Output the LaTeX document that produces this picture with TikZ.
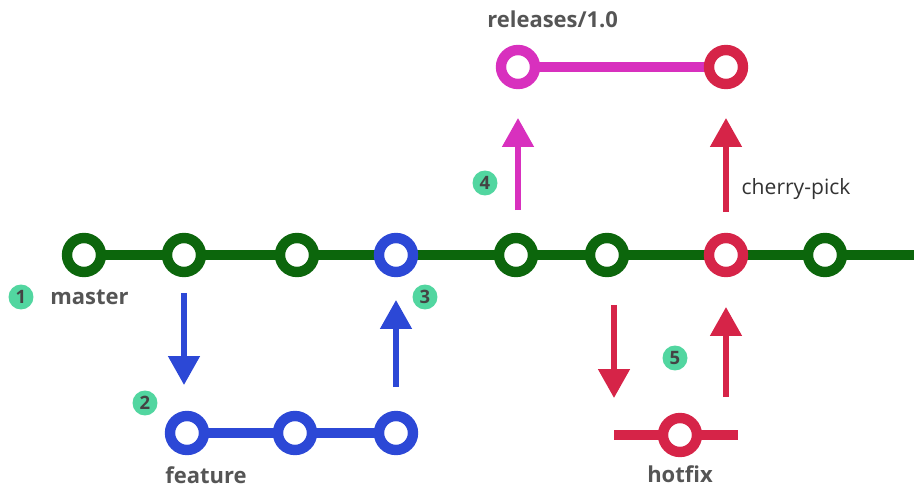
\documentclass[tikz,border=0pt]{standalone}
\usepackage{fontspec}
\setmainfont{Open Sans}
\usepackage{tikz}
\usetikzlibrary{arrows.meta,calc,backgrounds}

\definecolor{gitgreen}{RGB}{12,102,12}
\definecolor{gitblue}{RGB}{44,72,214}
\definecolor{gitmagenta}{RGB}{216,48,190}
\definecolor{gitred}{RGB}{214,36,72}
\definecolor{badgefill}{RGB}{82,214,160}
\definecolor{labelgray}{RGB}{85,85,85}

\begin{document}
\begin{tikzpicture}[
    x=0.02cm, y=-0.02cm,
    commit/.style={circle, draw=#1, fill=white, line width=5.9pt, minimum size=0.68cm, inner sep=0pt},
    branchline/.style={line width=5.6pt},
    badge/.style={circle, fill=badgefill, text=labelgray!80!black, minimum size=0.5cm, inner sep=0pt, font=\fontsize{10.5}{10}\selectfont\bfseries},
    branchlabel/.style={text=labelgray, font=\fontsize{12.5}{14}\selectfont\bfseries, inner sep=0pt},
    arrow/.style={line width=3.2pt, -{Triangle[width=17.5pt, length=16.5pt]}}
]
\useasboundingbox (0,0) rectangle (914,490);

% --- MASTER ---
\node (m1) [commit=gitgreen] at (84,255) {};
\node (m2) [commit=gitgreen] at (184,255) {};
\node (m3) [commit=gitgreen] at (297,255) {};
\node (m4) [commit=gitblue]  at (396,255) {};
\node (m5) [commit=gitgreen] at (516,255) {};
\node (m6) [commit=gitgreen] at (607,255) {};
\node (m7) [commit=gitred]   at (726,255) {};
\node (m8) [commit=gitgreen] at (825,255) {};
\coordinate (mend) at (914,255);

% --- FEATURE ---
\node (f1) [commit=gitblue] at (187,433) {};
\node (f2) [commit=gitblue] at (295,433) {};
\node (f3) [commit=gitblue] at (396,433) {};

% --- RELEASES ---
\node (r1) [commit=gitmagenta] at (518,67) {};
\node (r2) [commit=gitred]     at (726,67) {};

% --- HOTFIX ---
\coordinate (hl) at (614,435);
\coordinate (hr) at (738,435);
\node (h1) [commit=gitred] at (680,435) {};

% --- LINES (behind the commits) ---
\begin{scope}[on background layer]
\draw [branchline, gitgreen] (m1.center) -- (mend);
\draw [branchline, gitblue] (f1.center) -- (f3.center);
\draw [branchline, gitmagenta] (r1.center) -- (r2.center);
\draw [branchline, gitred] (hl) -- (hr);
\end{scope}

% --- ARROWS ---
\draw [arrow, gitblue, shorten <=0.76cm, shorten >=0.96cm] (m2.center) -- (m2 |- f1);
\draw [arrow, gitblue, shorten <=0.92cm, shorten >=0.9cm] (f3.center) -- (m4.center);
\draw [arrow, gitmagenta, shorten <=0.9cm, shorten >=1.02cm] (r1 |- m5) -- (r1.center);
\draw [arrow, gitred, shorten <=0.86cm, shorten >=1.02cm] (m7.center) -- (r2.center)
    node[pos=0.35, right=4pt, font=\fontsize{12}{14}\selectfont, text=black!80] {cherry-pick};
\draw [arrow, gitred, shorten <=1cm, shorten >=0.74cm] (hl |- m6) -- (hl);
\draw [arrow, gitred, shorten <=0.76cm, shorten >=1.04cm] (m7 |- hl) -- (m7.center);

% --- LABELS ---
\node (lmaster)  [branchlabel, anchor=west] at (50,297) {master};
\node (lfeature) [branchlabel, anchor=west] at (165,475) {feature};
\node (lrelease) [branchlabel, anchor=west] at (487,19) {releases/1.0};
\node (lhotfix)  [branchlabel] at (680,474) {hotfix};

% --- BADGES ---
\node (b1) [badge] at (21,297) {1};
\node (b2) [badge] at (145,403) {2};
\node (b3) [badge] at (425,297) {3};
\node (b4) [badge] at (485,183) {4};
\node (b5) [badge] at (675,358) {5};

\end{tikzpicture}
\end{document}
